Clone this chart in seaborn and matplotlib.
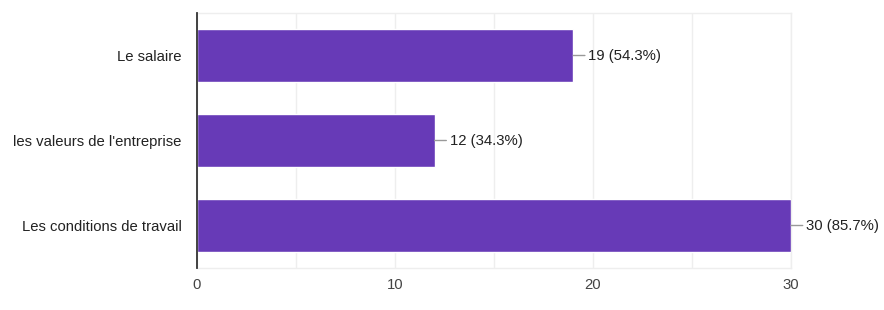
import matplotlib
matplotlib.use("Agg")
import matplotlib.pyplot as plt
import seaborn as sns
import pandas as pd

categories = ["Le salaire", "les valeurs de l'entreprise", "Les conditions de travail"]
counts = [19, 12, 30]
labels = ["19 (54.3%)", "12 (34.3%)", "30 (85.7%)"]

sns.set_theme(style="white")
plt.rcParams['font.family'] = ['Liberation Sans', 'DejaVu Sans']

df = pd.DataFrame({"cat": categories, "n": counts})

fig = plt.figure(figsize=(8.84, 3.10), dpi=100)
ax = fig.add_axes([197/884, 1-268/310, (791-197)/884, (268-13)/310])
sns.barplot(data=df, y="cat", x="n", color="#673ab7", saturation=1, width=0.62, ax=ax, zorder=3)

ax.set_xlim(0, 30)
ax.set_ylim(2.5, -0.5)
ax.set_xticks([0, 10, 20, 30])
ax.set_xticks([5, 15, 25], minor=True)
ax.grid(axis="x", which="both", color="#eeeeee", linewidth=1, zorder=0)
ax.set_xlabel("")
ax.set_ylabel("")
ax.tick_params(axis="both", length=0, labelsize=10.7)
ax.tick_params(axis="x", colors="#444444", pad=7)
ax.tick_params(axis="y", colors="#222222", pad=11)
for s in ["top", "right", "bottom"]:
    ax.spines[s].set_color("#eeeeee")
    ax.spines[s].set_linewidth(1)
ax.spines["left"].set_color("#333333")
ax.spines["left"].set_linewidth(1.3)
ax.spines["left"].set_zorder(5)

for i, (v, lab) in enumerate(zip(counts, labels)):
    ax.annotate(lab, xy=(v, i), xytext=(15, 0), textcoords="offset pixels",
                va="center", ha="left", fontsize=10.7, color="#222222",
                arrowprops=dict(arrowstyle="-", color="#999999", lw=1, shrinkA=0, shrinkB=0),
                annotation_clip=False)

fig.savefig("out.png", dpi=100)
